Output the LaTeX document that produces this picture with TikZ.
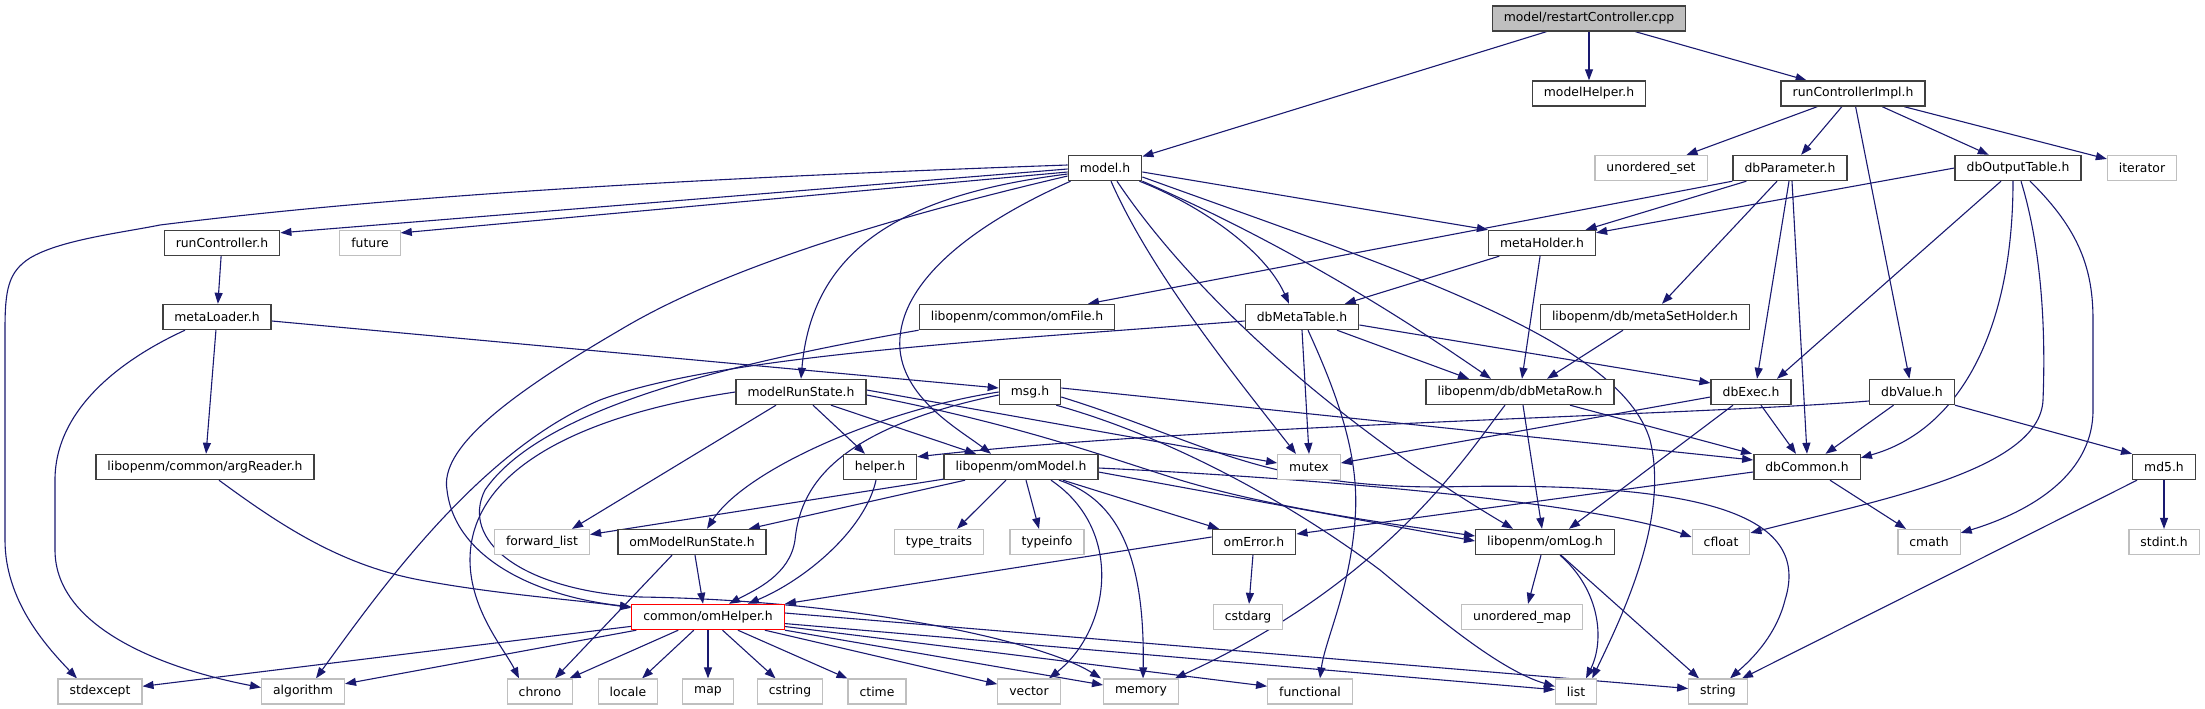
\documentclass[tikz,border=0pt]{standalone}
\usepackage{fontspec}
\setmainfont{DejaVu Sans}
\usetikzlibrary{arrows.meta}
\definecolor{edgeblue}{HTML}{191970}
\definecolor{sysgray}{HTML}{BFBFBF}
\definecolor{boxline}{HTML}{404040}
\pgfdeclarelayer{edges}
\pgfsetlayers{edges,main}
\begin{document}
\begin{tikzpicture}[x=1pt,y=-1pt,
  hdr/.style={draw=boxline, line width=1.4pt, fill=white, text=black,
    font=\fontsize{12.4}{14.9}\selectfont, inner xsep=11.5pt, inner ysep=0pt,
    minimum height=25pt},
  sys/.style={hdr, draw=sysgray, line width=1.2pt},
  rootbox/.style={hdr, fill=sysgray},
  hilite/.style={hdr, draw=red},
  dep/.style={draw=edgeblue, line width=1.1pt, -{Triangle[length=11pt,width=8pt]}}
]
\useasboundingbox (0,0) rectangle (2205,709);
% row 0
\node[rootbox] (rc) at (1589,18.5) {model/restartController.cpp};
% row 1
\node[hdr] (mhelp) at (1589,93.5) {modelHelper.h};
\node[hdr] (rci) at (1853,93.5) {runControllerImpl.h};
% row 2
\node[hdr] (model) at (1105,168) {model.h};
\node[sys] (uset) at (1651,168) {unordered\_set};
\node[hdr] (dbpar) at (1790,168) {dbParameter.h};
\node[hdr] (dbout) at (2018,168) {dbOutputTable.h};
\node[sys] (iter) at (2142,168) {iterator};
% row 3
\node[hdr] (runc) at (222,243) {runController.h};
\node[sys] (future) at (370,243) {future};
\node[hdr] (metah) at (1542,243) {metaHolder.h};
% row 4
\node[hdr] (metal) at (217,317) {metaLoader.h};
\node[hdr] (omfile) at (1017,317) {libopenm/common/omFile.h};
\node[hdr] (dbmt) at (1302,317) {dbMetaTable.h};
\node[hdr] (msh) at (1645,317) {libopenm/db/metaSetHolder.h};
% row 5
\node[hdr] (mrs) at (801,392) {modelRunState.h};
\node[hdr] (msg) at (1030,392) {msg.h};
\node[hdr] (dbmr) at (1520,392) {libopenm/db/dbMetaRow.h};
\node[hdr] (dbexec) at (1751,392) {dbExec.h};
\node[hdr] (dbval) at (1912,392) {dbValue.h};
% row 6
\node[hdr] (argr) at (205,467) {libopenm/common/argReader.h};
\node[hdr] (helper) at (880,467) {helper.h};
\node[hdr] (ommodel) at (1021,467) {libopenm/omModel.h};
\node[sys] (mutex) at (1309,467) {mutex};
\node[hdr] (dbcom) at (1807,467) {dbCommon.h};
\node[hdr] (md5) at (2164,467) {md5.h};
% row 7
\node[sys] (fwl) at (542,542) {forward\_list};
\node[hdr] (omrs) at (692,542) {omModelRunState.h};
\node[sys] (tt) at (939,542) {type\_traits};
\node[sys] (tinfo) at (1047,542) {typeinfo};
\node[hdr] (omerr) at (1254,542) {omError.h};
\node[hdr] (omlog) at (1545,542) {libopenm/omLog.h};
\node[sys] (cfloat) at (1721,542) {cfloat};
\node[sys] (cmath) at (1929,542) {cmath};
\node[sys] (stdint) at (2164,542) {stdint.h};
% row 8
\node[hilite] (omhelp) at (708,617) {common/omHelper.h};
\node[sys] (cstdarg) at (1248,617) {cstdarg};
\node[sys] (umap) at (1522,617) {unordered\_map};
% row 9
\node[sys] (stdexc) at (100,691.5) {stdexcept};
\node[sys] (algo) at (303,691.5) {algorithm};
\node[sys] (chrono) at (540,691.5) {chrono};
\node[sys] (locale) at (628,691.5) {locale};
\node[sys] (map) at (708,691.5) {map};
\node[sys] (cstring) at (790,691.5) {cstring};
\node[sys] (ctime) at (877,691.5) {ctime};
\node[sys] (vector) at (1029,691.5) {vector};
\node[sys] (memory) at (1141,691.5) {memory};
\node[sys] (functional) at (1310,691.5) {functional};
\node[sys] (list) at (1576,691.5) {list};
\node[sys] (string) at (1718,691.5) {string};

\begin{pgfonlayer}{edges}
% restartController.cpp
\draw[dep] (rc) -- (model);
\draw[dep] (rc) -- (mhelp);
\draw[dep] (rc) -- (rci);
% runControllerImpl.h
\draw[dep] (rci) -- (uset);
\draw[dep] (rci) -- (dbpar);
\draw[dep] (rci) -- (dbout);
\draw[dep] (rci) -- (iter);
\draw[dep] (rci) -- (dbval);
% model.h
\draw[dep] ([yshift=3pt]model.west) .. controls (700,178) and (400,195) .. (160,225) .. controls (120,233) and (60,240) .. (30,258) .. controls (8,272) and (5,290) .. (5,330) -- (5,540) .. controls (5,600) and (45,645) .. ([xshift=-23pt]stdexc.north);
\draw[dep] ([yshift=-1pt]model.west) -- ([yshift=-3pt]runc.north east);
\draw[dep] ([yshift=-4pt]model.west) -- ([yshift=-3pt]future.north east);
\draw[dep] ([yshift=-6pt]model.west) .. controls (900,195) and (812,250) .. (mrs.north);
\draw[dep] ([yshift=-8pt]model.west) .. controls (880,220) and (720,270) .. (620,330) .. controls (500,400) and (440,450) .. (447,490) .. controls (455,560) and (540,597) .. ([yshift=-3pt]omhelp.north west);
\draw[dep] ([xshift=3pt]model.south west) .. controls (960,230) and (895,290) .. (900,350) .. controls (905,400) and (960,430) .. ([xshift=-30pt]ommodel.north);
\draw[dep] ([xshift=6pt]model.south) .. controls (1150,270) and (1230,370) .. ([xshift=-13pt]mutex.north);
\draw[dep] ([xshift=12pt]model.south) .. controls (1190,290) and (1330,420) .. ([xshift=-32pt]omlog.north);
\draw[dep] ([xshift=-3pt]model.south east) .. controls (1200,205) and (1265,250) .. ([xshift=-13pt]dbmt.north);
\draw[dep] (model.south east) .. controls (1300,250) and (1420,330) .. ([xshift=-29pt]dbmr.north);
\draw[dep] ([yshift=-4pt]model.east) -- (metah.north west);
\draw[dep] ([yshift=-9pt]model.east) .. controls (1400,270) and (1620,340) .. (1650,440) .. controls (1670,520) and (1620,620) .. ([xshift=-5pt]list.north east);
% runController.h / metaLoader.h
\draw[dep] (runc) -- (metal);
\draw[dep] (metal) -- (argr);
\draw[dep] ([xshift=-32pt]metal.south) .. controls (120,360) and (55,410) .. (55,480) -- (55,550) .. controls (55,630) and (170,670) .. ([yshift=4pt]algo.west);
\draw[dep] ([yshift=-4pt]metal.east) -- ([yshift=4pt]msg.west);
% metaHolder.h
\draw[dep] (metah) -- (dbmt);
\draw[dep] (metah) -- (dbmr);
% dbParameter.h
\draw[dep] (dbpar.south west) -- ([xshift=71pt]omfile.north);
\draw[dep] (dbpar) -- (metah);
\draw[dep] ([xshift=-13pt]dbpar.south) -- ([xshift=17pt]msh.north);
\draw[dep] ([xshift=-1pt]dbpar.south) -- ([xshift=6pt]dbexec.north);
\draw[dep] ([xshift=2pt]dbpar.south) -- (dbcom.north);
% dbOutputTable.h
\draw[dep] (dbout.west) -- ([yshift=-3pt]metah.north east);
\draw[dep] ([xshift=-17pt]dbout.south) -- ([xshift=26pt]dbexec.north);
\draw[dep] ([xshift=-5pt]dbout.south) .. controls (2013,330) and (1960,430) .. ([yshift=-4pt]dbcom.north east);
\draw[dep] ([xshift=3pt]dbout.south) .. controls (2045,260) and (2045,350) .. (2043,400) .. controls (2040,470) and (1880,500) .. ([yshift=-4pt]cfloat.north east);
\draw[dep] ([xshift=12pt]dbout.south) .. controls (2080,230) and (2093,270) .. (2093,320) -- (2093,410) .. controls (2093,480) and (2020,515) .. ([yshift=-4pt]cmath.north east);
% dbMetaTable.h
\draw[dep] ([yshift=-4pt]dbmt.west) .. controls (1000,340) and (720,355) .. (600,400) .. controls (480,450) and (380,590) .. ([xshift=13pt]algo.north);
\draw[dep] (dbmt.south) -- (mutex.north);
\draw[dep] ([xshift=6pt]dbmt.south) .. controls (1340,400) and (1360,460) .. (1355,520) .. controls (1350,590) and (1325,640) .. ([xshift=10pt]functional.north);
\draw[dep] ([xshift=35pt]dbmt.south) -- ([xshift=-51pt]dbmr.north);
\draw[dep] ([yshift=-8pt]dbmt.east) -- ([yshift=9pt]dbexec.west);
% metaSetHolder.h
\draw[dep] ([xshift=-22pt]msh.south) -- ([xshift=27pt]dbmr.north);
% omFile.h
\draw[dep] (omfile.south west) .. controls (720,365) and (540,410) .. (485,490) .. controls (460,540) and (520,590) .. (640,597) .. controls (850,600) and (1040,640) .. ([xshift=-40pt]memory.north);
% modelRunState.h
\draw[dep] (mrs.west) .. controls (580,415) and (470,470) .. (470,560) .. controls (470,610) and (505,650) .. ([xshift=-21pt]chrono.north);
\draw[dep] ([xshift=-25pt]mrs.south) -- ([xshift=30pt]fwl.north);
\draw[dep] ([xshift=12pt]mrs.south) -- ([xshift=-15pt]helper.north);
\draw[dep] ([xshift=30pt]mrs.south) -- ([xshift=-45pt]ommodel.north);
\draw[dep] ([yshift=2pt]mrs.east) -- ([yshift=4pt]mutex.west);
\draw[dep] ([yshift=-3pt]mrs.east) .. controls (1020,425) and (1100,455) .. (1180,480) .. controls (1280,510) and (1400,525) .. ([yshift=6pt]omlog.west);
% msg.h
\draw[dep] (msg.west) .. controls (880,410) and (745,470) .. ([xshift=15pt]omrs.north);
\draw[dep] ([yshift=-3pt]msg.west) .. controls (830,430) and (800,490) .. (795,540) .. controls (790,575) and (755,590) .. ([xshift=21pt]omhelp.north);
\draw[dep] ([yshift=4pt]msg.east) -- ([yshift=7pt]dbcom.west);
\draw[dep] ([yshift=-5pt]msg.east) .. controls (1200,440) and (1260,487) .. (1440,487) .. controls (1720,480) and (1810,520) .. (1785,600) .. controls (1775,640) and (1745,665) .. ([xshift=12pt]string.north);
\draw[dep] ([xshift=-5pt]msg.south east) .. controls (1180,440) and (1300,510) .. (1380,570) .. controls (1440,620) and (1500,670) .. ([yshift=5pt]list.west);
% libopenm/db/dbMetaRow.h
\draw[dep] ([xshift=-15pt]dbmr.south) .. controls (1470,450) and (1390,580) .. ([xshift=-4pt]memory.north east);
\draw[dep] ([xshift=3pt]dbmr.south) -- ([xshift=-3pt]omlog.north);
\draw[dep] ([xshift=50pt]dbmr.south) -- ([xshift=-55pt]dbcom.north);
% dbExec.h
\draw[dep] ([yshift=-5pt]dbexec.west) -- ([yshift=4pt]mutex.east);
\draw[dep] ([xshift=-18pt]dbexec.south) -- ([xshift=24pt]omlog.north);
\draw[dep] ([xshift=10pt]dbexec.south) -- ([xshift=-11pt]dbcom.north);
% dbValue.h
\draw[dep] ([yshift=-9pt]dbval.west) .. controls (1700,415) and (1200,425) .. ([yshift=-3pt]helper.north east);
\draw[dep] (dbval) -- (dbcom);
\draw[dep] (dbval.south east) -- (md5.north west);
% libopenm/omModel.h
\draw[dep] (ommodel) -- (fwl);
\draw[dep] ([xshift=-56pt]ommodel.south) -- ([xshift=-18pt]omrs.north east);
\draw[dep] ([xshift=-15pt]ommodel.south) -- ([xshift=18pt]tt.north);
\draw[dep] ([xshift=5pt]ommodel.south) -- ([xshift=-8pt]tinfo.north);
\draw[dep] ([xshift=30pt]ommodel.south) .. controls (1125,530) and (1110,630) .. ([xshift=20pt]vector.north);
\draw[dep] ([xshift=38pt]ommodel.south) .. controls (1120,500) and (1145,560) .. ([xshift=2pt]memory.north);
\draw[dep] ([xshift=42pt]ommodel.south) -- ([xshift=-35pt]omerr.north);
\draw[dep] ([yshift=-5pt]ommodel.east) -- ([yshift=1pt]omlog.west);
\draw[dep] ([yshift=-1pt]ommodel.east) .. controls (1350,480) and (1600,505) .. ([yshift=5pt]cfloat.west);
% dbCommon.h
\draw[dep] ([yshift=-5pt]dbcom.west) -- ([yshift=8pt]omerr.east);
\draw[dep] ([xshift=23pt]dbcom.south) -- ([xshift=-23pt]cmath.north);
% md5.h
\draw[dep] (md5) -- (stdint);
\draw[dep] ([xshift=-27pt]md5.south) -- ([xshift=24pt]string.north);
% libopenm/omLog.h
\draw[dep] ([xshift=-4pt]omlog.south) -- ([xshift=6pt]umap.north);
\draw[dep] ([xshift=15pt]omlog.south) .. controls (1600,590) and (1605,640) .. ([xshift=10pt]list.north);
\draw[dep] ([xshift=16pt]omlog.south) -- ([xshift=-19pt]string.north);
% omError.h
\draw[dep] ([yshift=5pt]omerr.west) -- (omhelp.north east);
\draw[dep] (omerr) -- (cstdarg);
% helper.h / omModelRunState.h / argReader.h
\draw[dep] ([xshift=-4pt]helper.south) .. controls (865,530) and (805,580) .. ([xshift=40pt]omhelp.north);
\draw[dep] ([xshift=3pt]omrs.south) -- ([xshift=-5pt]omhelp.north);
\draw[dep] ([xshift=-20pt]omrs.south) -- ([xshift=15pt]chrono.north);
\draw[dep] ([xshift=14pt]argr.south) .. controls (280,525) and (340,565) .. (420,580) .. controls (500,595) and (580,600) .. ([yshift=-4pt]omhelp.north west);
% common/omHelper.h
\draw[dep] (omhelp) -- (stdexc);
\draw[dep] (omhelp) -- (algo);
\draw[dep] (omhelp) -- (chrono);
\draw[dep] (omhelp) -- (locale);
\draw[dep] (omhelp) -- (map);
\draw[dep] (omhelp) -- (cstring);
\draw[dep] (omhelp) -- (ctime);
\draw[dep] (omhelp) -- (vector);
\draw[dep] (omhelp) -- (memory);
\draw[dep] (omhelp) -- (functional);
\draw[dep] (omhelp) -- (list);
\draw[dep] ([yshift=4pt]omhelp.east) -- ([yshift=3pt]string.west);
\end{pgfonlayer}
\end{tikzpicture}
\end{document}
